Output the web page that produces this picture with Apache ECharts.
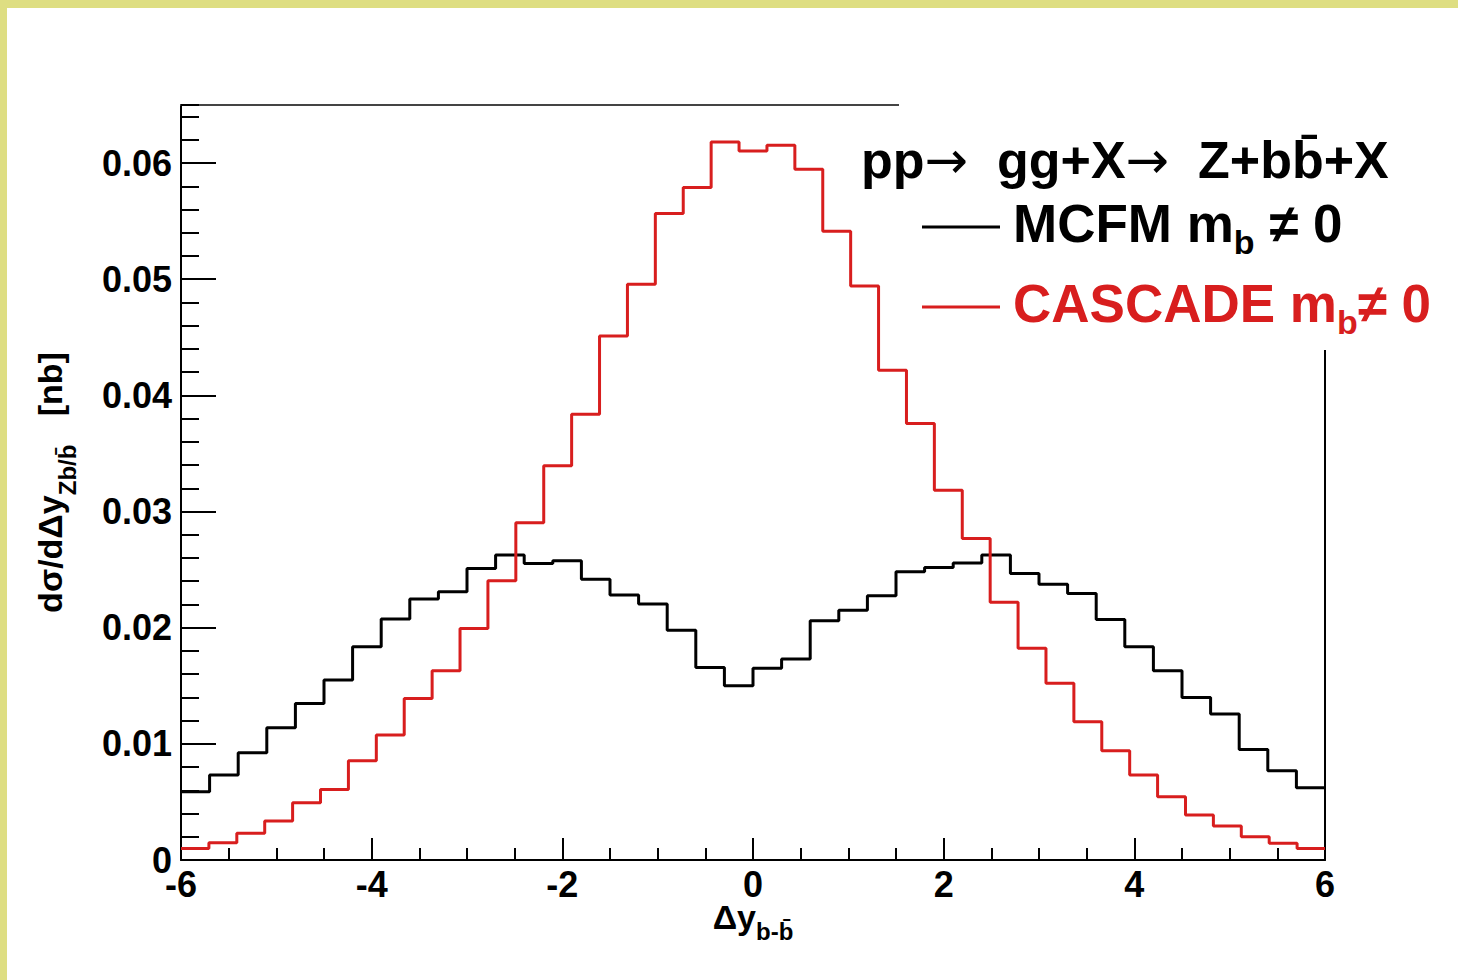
<!DOCTYPE html>
<html><head><meta charset="utf-8">
<script src="https://cdn.jsdelivr.net/npm/echarts@6/dist/echarts.min.js"></script>
<style>
html,body{margin:0;padding:0;background:#dede82;width:1458px;height:980px;overflow:hidden}
#c{position:absolute;left:7px;top:8px;width:1451px;height:972px;background:#fff}
</style></head><body><div id="c"></div>
<script>
// ---- data ----
const xRange = [-6, 6];
const xTickStep = 2;
const yTickStep = 0.01;
const yMinorStep = 0.002;
const yMax = 0.065;
const seriesNames = ['MCFM', 'CASCADE'];
// MCFM m_b != 0 : 40 bins over [-6, 6]
const mcfm = [0.00588, 0.00731, 0.00924, 0.01139, 0.01348, 0.01549, 0.01836, 0.02074, 0.02246, 0.02309,
  0.0251, 0.02625, 0.02553, 0.02576, 0.02418, 0.02281, 0.02203, 0.01979, 0.01658, 0.0150,
  0.0165, 0.0173, 0.0206, 0.02151, 0.02275, 0.02481, 0.02519, 0.02556, 0.02625, 0.02467,
  0.02375, 0.02295, 0.02071, 0.01836, 0.01629, 0.0140, 0.01256, 0.00952, 0.00769, 0.00622];
// CASCADE m_b != 0 : 41 bins over [-6, 6]
const cascade = [0.00100, 0.00149, 0.0023, 0.00336, 0.00493, 0.00608, 0.00855, 0.01076, 0.01391, 0.01629,
  0.01994, 0.02404, 0.02903, 0.03394, 0.03838, 0.04512, 0.04957, 0.05565, 0.05789, 0.06182,
  0.06104, 0.06153, 0.05947, 0.05413, 0.04942, 0.04217, 0.03758, 0.03184, 0.02768, 0.02218,
  0.01822, 0.01521, 0.0119, 0.00941, 0.00731, 0.00545, 0.00387, 0.00293, 0.00201, 0.00144, 0.0010];

// ---- helpers ----
function histPoints(vals, lo, hi) {
  const w = (hi - lo) / vals.length;
  const pts = [];
  vals.forEach((v, i) => { pts.push([lo + i * w, v]); pts.push([lo + (i + 1) * w, v]); });
  return pts;
}
const FF = '"Liberation Sans", Arial, Helvetica, sans-serif';
const AF = '"DejaVu Sans", sans-serif';
const BLACK = '#000000';
const RED = '#d81e1e';
const lbl = {fontFamily: FF, fontWeight: 'bold', fontSize: 36, color: BLACK};

const chart = echarts.init(document.getElementById('c'), null, {renderer: 'svg'});
chart.setOption({
  animation: false,
  backgroundColor: '#ffffff',
  grid: {left: 174, top: 97, width: 1144, height: 755},
  title: {
    text: '{t|pp}{a|\u2192}{t|  gg+X}{a|\u2192}{t|  Z+bb\u0304+X}', left: 849, top: 117,
    textStyle: {
      rich: {
        t: {fontFamily: FF, fontWeight: 'bold', fontSize: 52, color: BLACK, lineHeight: 60},
        a: {fontFamily: AF, fontWeight: 'normal', fontSize: 52, color: BLACK, lineHeight: 60}
      }
    }
  },
  legend: {
    orient: 'vertical', left: 910, top: 184, itemWidth: 78, itemHeight: 3, itemGap: 18,
    icon: 'rect', selectedMode: false,
    data: seriesNames,
    formatter: function (name) {
      return name === 'MCFM' ? '{tb|MCFM m}{sb|b}{tb| \u2260 0}' : '{tr|CASCADE m}{sr|b}{tr|\u2260 0}';
    },
    textStyle: {
      padding: [0, 0, 0, 8],
      rich: {
        tb: {fontFamily: FF, fontWeight: 'bold', fontSize: 53, color: BLACK, lineHeight: 60, verticalAlign: 'top'},
        sb: {fontFamily: FF, fontWeight: 'bold', fontSize: 34, color: BLACK, lineHeight: 40, padding: [28, 0, 0, 0], verticalAlign: 'top'},
        tr: {fontFamily: FF, fontWeight: 'bold', fontSize: 53, color: RED, lineHeight: 60, verticalAlign: 'top'},
        sr: {fontFamily: FF, fontWeight: 'bold', fontSize: 34, color: RED, lineHeight: 40, padding: [28, 0, 0, 0], verticalAlign: 'top'}
      }
    }
  },
  graphic: [{
    type: 'rect', z: 3, silent: true,
    shape: {x: 892, y: 0, width: 600, height: 342},
    style: {fill: '#ffffff'}
  }],
  xAxis: [{
    type: 'value', min: xRange[0], max: xRange[1], interval: xTickStep, position: 'bottom',
    axisLine: {show: true, onZero: false, lineStyle: {color: BLACK, width: 2}},
    axisTick: {show: true, inside: true, length: 22, lineStyle: {color: BLACK, width: 2}},
    minorTick: {show: true, splitNumber: 4, length: 12, lineStyle: {color: BLACK, width: 2}},
    axisLabel: Object.assign({margin: 11, lineHeight: 26}, lbl),
    splitLine: {show: false},
    name: '{m|\u0394y}{s|b-b\u0304}', nameLocation: 'middle', nameGap: 40, nameMoveOverlap: false,
    nameTextStyle: {
      rich: {
        m: {fontFamily: FF, fontWeight: 'bold', fontSize: 34, color: BLACK, lineHeight: 34, verticalAlign: 'top'},
        s: {fontFamily: FF, fontWeight: 'bold', fontSize: 24, color: BLACK, lineHeight: 26, padding: [19, 0, 0, 0], verticalAlign: 'top'}
      }
    }
  }, {
    type: 'value', min: xRange[0], max: xRange[1], position: 'top',
    axisLine: {show: true, onZero: false, lineStyle: {color: '#444', width: 2}},
    axisTick: {show: false}, axisLabel: {show: false}, splitLine: {show: false}
  }],
  yAxis: [{
    type: 'value', min: 0, max: yMax, interval: yTickStep, position: 'left',
    axisLine: {show: true, onZero: false, lineStyle: {color: BLACK, width: 2}},
    axisTick: {show: true, inside: true, length: 35, lineStyle: {color: BLACK, width: 2}},
    axisLabel: Object.assign({margin: 9, showMaxLabel: false, lineHeight: 24}, lbl),
    splitLine: {show: false},
    name: '{m|d\u03c3/d\u0394y}{s|Zb/b\u0304}{m|   [nb]}', nameLocation: 'middle', nameRotate: 90, nameGap: 108,
    nameMoveOverlap: false,
    nameTextStyle: {
      rich: {
        m: {fontFamily: FF, fontWeight: 'bold', fontSize: 34, color: BLACK, lineHeight: 40, verticalAlign: 'top'},
        s: {fontFamily: FF, fontWeight: 'bold', fontSize: 24, color: BLACK, lineHeight: 28, padding: [22, 0, 0, 0], verticalAlign: 'top'}
      }
    }
  }, {
    type: 'value', min: 0, max: yMax, interval: yMinorStep, position: 'left', offset: 0,
    axisLine: {show: false, onZero: false},
    axisTick: {show: true, inside: true, length: 18, lineStyle: {color: BLACK, width: 2}},
    axisLabel: {show: false}, splitLine: {show: false}
  }, {
    type: 'value', min: 0, max: yMax, position: 'right',
    axisLine: {show: true, onZero: false, lineStyle: {color: BLACK, width: 2}},
    axisTick: {show: false}, axisLabel: {show: false}, splitLine: {show: false}
  }],
  series: [{
    name: seriesNames[0], type: 'line', color: BLACK, showSymbol: false, symbol: 'none',
    data: histPoints(mcfm, xRange[0], xRange[1]),
    lineStyle: {color: BLACK, width: 3}, z: 2
  }, {
    name: seriesNames[1], type: 'line', color: RED, showSymbol: false, symbol: 'none',
    data: histPoints(cascade, xRange[0], xRange[1]),
    lineStyle: {color: RED, width: 3}, z: 2
  }]
});
</script></body></html>
